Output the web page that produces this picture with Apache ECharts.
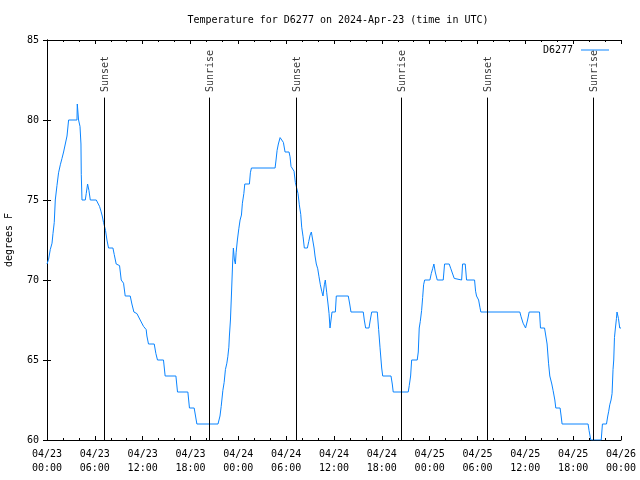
<!DOCTYPE html>
<html><head><meta charset="utf-8">
<script src="https://cdn.jsdelivr.net/npm/echarts/dist/echarts.min.js"></script>
<style>html,body{margin:0;padding:0;background:#fff}#c{width:640px;height:480px}</style>
</head><body><div id="c"></div>
<script>
// hours since 2024-04-23 00:00 UTC
const hours = [0,0.20,0.41,0.63,0.75,0.91,1.04,1.25,1.45,1.67,1.88,2.08,2.29,2.51,2.71,3.76,3.80,3.96,4.14,4.26,4.30,4.39,4.80,4.92,5.09,5.26,5.43,6.18,6.34,6.59,6.77,6.93,7.09,7.34,7.52,7.72,8.27,8.43,8.68,9.10,9.31,9.60,9.81,10.44,10.65,10.90,11.28,11.69,12.11,12.44,12.53,12.73,13.45,13.66,13.86,14.61,14.82,16.17,16.37,17.67,17.87,18.46,18.80,21.45,21.70,21.85,22.06,22.22,22.38,22.56,22.68,22.81,22.88,23.01,23.13,23.28,23.38,23.51,23.63,23.72,23.88,24.06,24.22,24.39,24.51,24.69,24.81,25.39,25.51,25.64,28.61,28.73,28.86,29.02,29.24,29.45,29.65,29.86,30.36,30.49,30.61,30.83,30.99,31.15,31.37,31.49,31.65,31.83,31.95,32.12,32.28,32.66,32.83,33.00,33.16,33.33,33.50,33.62,33.78,33.96,34.12,34.29,34.46,34.62,34.79,34.91,35.09,35.25,35.38,35.50,35.63,35.75,36.17,36.29,37.79,37.97,38.13,39.67,39.80,39.97,40.39,40.55,40.73,41.43,41.60,41.77,41.98,42.11,43.15,43.31,43.43,45.31,45.44,45.61,45.74,46.44,46.57,46.69,46.82,46.99,47.12,47.24,47.37,48.03,48.20,48.37,48.53,48.70,48.95,49.70,49.87,50.45,50.66,51.08,51.29,52.01,52.13,52.46,52.63,53.63,53.76,53.88,54.14,54.30,54.42,59.31,59.47,59.72,60.03,60.28,60.48,61.78,61.90,62.41,62.57,62.73,62.91,63.07,63.32,63.48,63.70,63.82,64.36,64.49,64.61,67.87,67.99,68.21,69.52,69.67,70.18,70.34,70.46,70.59,70.75,70.88,71.00,71.09,71.18,71.30,71.43,71.50,71.68,71.84,72.00];
const tempsF = [71,71.3,71.9,72.3,72.9,73.6,75.0,75.9,76.7,77.2,77.6,78,78.1,79,80,80,81,80,79.6,78.5,76.6,75,75,75.4,76,75.6,75,75,74.9,74.6,74.3,74,73.6,73.1,72.5,72,72,71.6,71,70.9,70,69.8,69,69,68.5,68,67.9,67.5,67.1,66.9,66.5,66,66,65.4,65,65,64,64,63,63,62,62,61,61,61.5,62.1,63.1,63.6,64.4,64.8,65.2,65.8,66.5,67.5,69,71,72,71.25,71,71.7,72.5,73.2,73.75,74.06,74.8,75.4,76,76,76.7,77,77,77.5,78.1,78.5,78.9,79,78.6,78,78,77.7,77.1,77,76.8,76.1,76,75.4,74.7,74.1,73.3,72.7,72,72,72.4,72.8,73,72.5,72,71.5,71,70.7,70.2,69.7,69.3,69,69.7,70,69.2,68.5,67.9,67,67,68,68,69,69,68.5,68,68,67.5,67,67,67.5,68,68,66.9,65.8,64.5,64,64,63.5,63,63,63.4,64,65,65,65.5,67,67.4,68.1,68.9,69.7,70,70,70.4,70.7,71,70.5,70,70,71,71,70.7,70.1,70,70,71,71,70,70,69.3,69,68.75,68.3,68,68,67.7,67.3,67,67.5,68,68,67,67,66.5,66,64.8,64,63.5,63.1,62.5,62,62,61.5,61,61,60.6,60,60,61,61,61.5,61.8,62.2,62.5,62.9,64.4,65,66.4,67,67.6,68,67.6,67,67];
const sunHours = [7.19, 20.36, 31.27, 44.44, 55.23, 68.53];
const sunLabels = ['Sunset','Sunrise','Sunset','Sunrise','Sunset','Sunrise'];
const xTickLabels = ['04/23\n00:00','04/23\n06:00','04/23\n12:00','04/23\n18:00','04/24\n00:00','04/24\n06:00','04/24\n12:00','04/24\n18:00','04/25\n00:00','04/25\n06:00','04/25\n12:00','04/25\n18:00','04/26\n00:00'];
const seriesName = 'D6277';
const titleText = 'Temperature for D6277 on 2024-Apr-23 (time in UTC)';
const yName = 'degrees F';

const FONT = "'DejaVu Sans Mono', 'Liberation Mono', monospace";
const LINE_COLOR = '#0a84ff';
const sunLineTop = 81.4, sunLabelBase = 81.75;

const chart = echarts.init(document.getElementById('c'), null, {renderer: 'canvas'});
const axisCommon = {
  axisLine: {show: true, lineStyle: {color: '#000', width: 1}},
  splitLine: {show: false}
};
chart.setOption({
  animation: false,
  backgroundColor: '#fff',
  title: {
    text: titleText, left: 333, top: 10, textAlign: 'center',
    textStyle: {fontFamily: FONT, fontSize: 10, fontWeight: 'normal', color: '#000'}
  },
  legend: {
    data: [seriesName], right: 26, top: 40, align: 'right',
    icon: 'rect', itemWidth: 28, itemHeight: 1, itemGap: 0,
    textStyle: {fontFamily: FONT, fontSize: 10, color: '#000', padding: [0, 3, 0, 0]}
  },
  grid: {left: 47, right: 19, top: 40, bottom: 40, containLabel: false, outerBoundsMode: 'none'},
  xAxis: [{
    type: 'value', min: 0, max: 72, interval: 6, position: 'bottom',
    ...axisCommon,
    axisTick: {show: true, inside: true, length: 4, lineStyle: {color: '#000'}},
    minorTick: {show: true, splitNumber: 3, length: 2, lineStyle: {color: '#000'}},
    axisLabel: {
      margin: 7, color: '#000', fontFamily: FONT, fontSize: 10, lineHeight: 14,
      formatter: v => xTickLabels[Math.round(v / 6)] || ''
    }
  }, {
    type: 'value', min: 0, max: 72, interval: 6, position: 'top',
    ...axisCommon,
    axisTick: {show: true, inside: true, length: 4, lineStyle: {color: '#000'}},
    minorTick: {show: true, splitNumber: 3, length: 2, lineStyle: {color: '#000'}},
    axisLabel: {show: false}
  }],
  yAxis: [{
    type: 'value', min: 60, max: 85, interval: 5, position: 'left',
    ...axisCommon,
    name: yName, nameLocation: 'middle', nameRotate: 90, nameGap: 33,
    nameTextStyle: {fontFamily: FONT, fontSize: 10, color: '#000'},
    axisTick: {show: true, inside: true, length: 4, lineStyle: {color: '#000'}},
    axisLabel: {margin: 8, color: '#000', fontFamily: FONT, fontSize: 10}
  }, {
    type: 'value', min: 60, max: 85, interval: 5, position: 'right',
    ...axisCommon,
    axisTick: {show: true, inside: true, length: 4, lineStyle: {color: '#000'}},
    axisLabel: {show: false}
  }],
  series: [{
    name: seriesName, type: 'line', xAxisIndex: 0, yAxisIndex: 0,
    data: hours.map((h, i) => [h, tempsF[i]]),
    showSymbol: false, symbol: 'none',
    itemStyle: {color: LINE_COLOR},
    lineStyle: {color: LINE_COLOR, width: 1},
    markLine: {
      silent: true, symbol: ['none', 'none'],
      label: {show: false},
      lineStyle: {color: '#000', width: 1, type: 'solid'},
      data: sunHours.map(h => [{xAxis: h, yAxis: sunLineTop}, {xAxis: h, yAxis: 60}])
    }
  }, {
    name: 'sunLabels', type: 'scatter', xAxisIndex: 0, yAxisIndex: 0,
    symbolSize: 0, silent: true,
    data: sunHours.map((h, i) => ({value: [h, sunLabelBase], name: sunLabels[i]})),
    label: {
      show: true, formatter: p => p.name, rotate: 90, position: [1, 0],
      align: 'left', verticalAlign: 'middle',
      fontFamily: FONT, fontSize: 10, color: '#000'
    }
  }]
});
</script>
</body></html>
